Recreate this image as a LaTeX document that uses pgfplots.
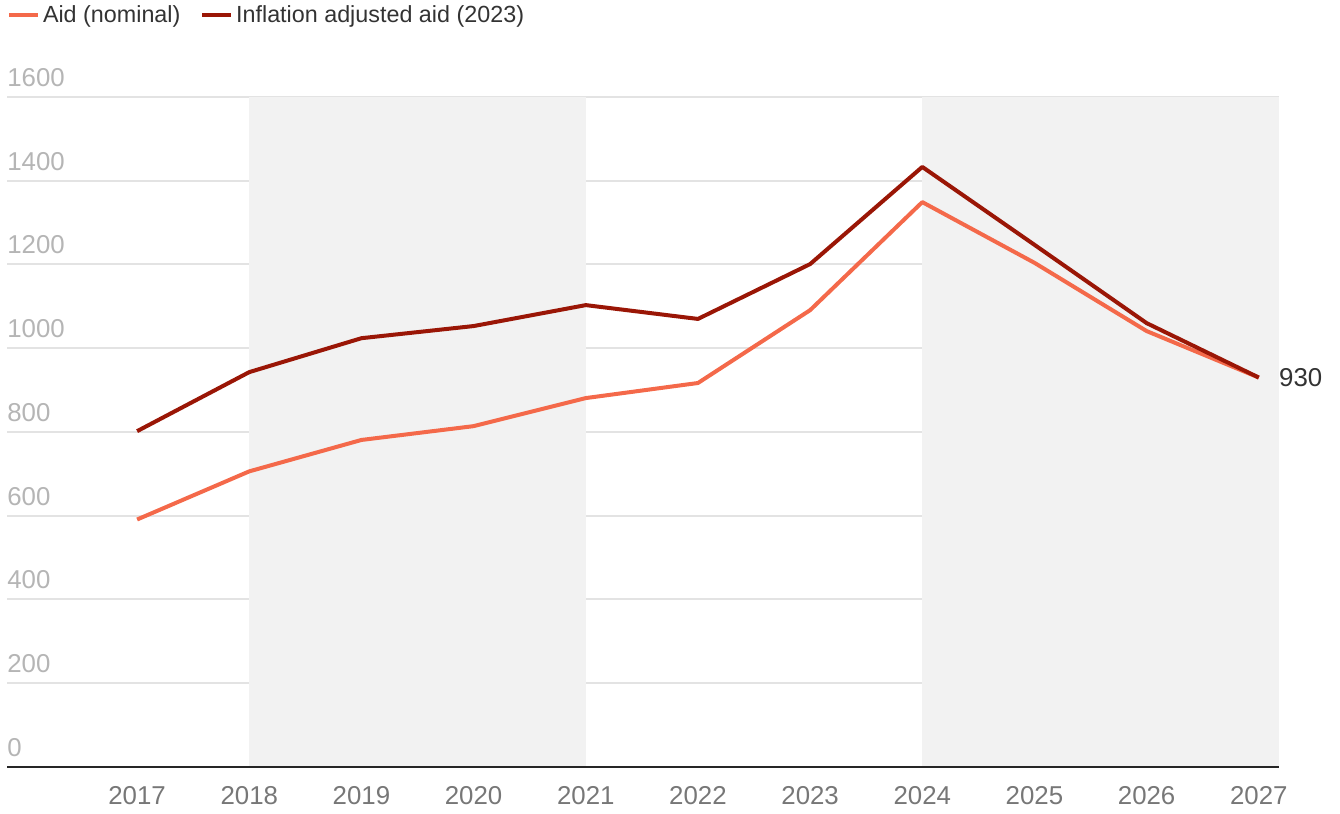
\documentclass[border=0pt]{standalone}
\usepackage{fontspec}
\setmainfont{Liberation Sans}
\usepackage{pgfplots}
\pgfplotsset{compat=1.18}
\definecolor{nominal}{HTML}{F4694A}
\definecolor{adjusted}{HTML}{9A1606}
\definecolor{band}{HTML}{F2F2F2}
\definecolor{gridc}{HTML}{E3E3E3}
\definecolor{ylab}{HTML}{B5B5B5}
\definecolor{xlab}{HTML}{777777}
\definecolor{txt}{HTML}{333333}
\begin{document}
\begin{tikzpicture}
\begin{axis}[
  set layers,
  at={(4.2pt,27.6pt)}, anchor=south west,
  scale only axis, width=763.2pt, height=402pt,
  xmin=2015.84, xmax=2027.18, ymin=0, ymax=1600,
  clip=false,
  axis line style={draw=none},
  major tick length=0pt,
  xtick={2017,2018,...,2027},
  ytick={0,200,...,1600},
  ymajorgrids, grid style={gridc, line width=1.2pt},
  /pgf/number format/1000 sep={},
  /pgf/number format/assume math mode=true,
  xticklabel style={font=\fontsize{15.5}{18}\selectfont, color=xlab, inner sep=0pt, anchor=north, yshift=-11.4pt},
  yticklabel style={font=\fontsize{15.5}{18}\selectfont, color=ylab, inner sep=0pt, anchor=south west, yshift=6pt},
  legend columns=2,
  legend style={draw=none, fill=none, at={(0,1.142)}, anchor=north west,
    font=\fontsize{14}{17}\selectfont, text=txt, inner sep=0pt,
    nodes={inner sep=2pt},
    /tikz/every even column/.append style={column sep=10pt}},
  legend image code/.code={\draw[line width=2.4pt] (0pt,0pt) -- (17pt,0pt);},
]
\fill[band] (axis cs:2018,0) rectangle (axis cs:2021,1600);
\fill[band] (axis cs:2024,0) rectangle (axis cs:2027.18,1600);
\draw[black!85, line width=1.2pt] (rel axis cs:0,0) -- (rel axis cs:1,0);
\addplot[nominal, line width=2.4pt, line join=round] coordinates {
(2017,591) (2018,706) (2019,781) (2020,814) (2021,881) (2022,917)
(2023,1091) (2024,1349) (2025,1204) (2026,1041) (2027,930)};
\addlegendentry{Aid (nominal)}
\addplot[adjusted, line width=2.4pt, line join=round] coordinates {
(2017,802) (2018,943) (2019,1024) (2020,1053) (2021,1103) (2022,1070)
(2023,1201) (2024,1433) (2025,1247) (2026,1060) (2027,930)};
\addlegendentry{Inflation adjusted aid (2023)}
\node[anchor=west, inner sep=0pt, xshift=12pt, text=txt, font=\fontsize{15.5}{18}\selectfont] at (axis cs:2027,930) {930};
\end{axis}
\path (0,0) rectangle (804pt,487.8pt);
\end{tikzpicture}
\end{document}
